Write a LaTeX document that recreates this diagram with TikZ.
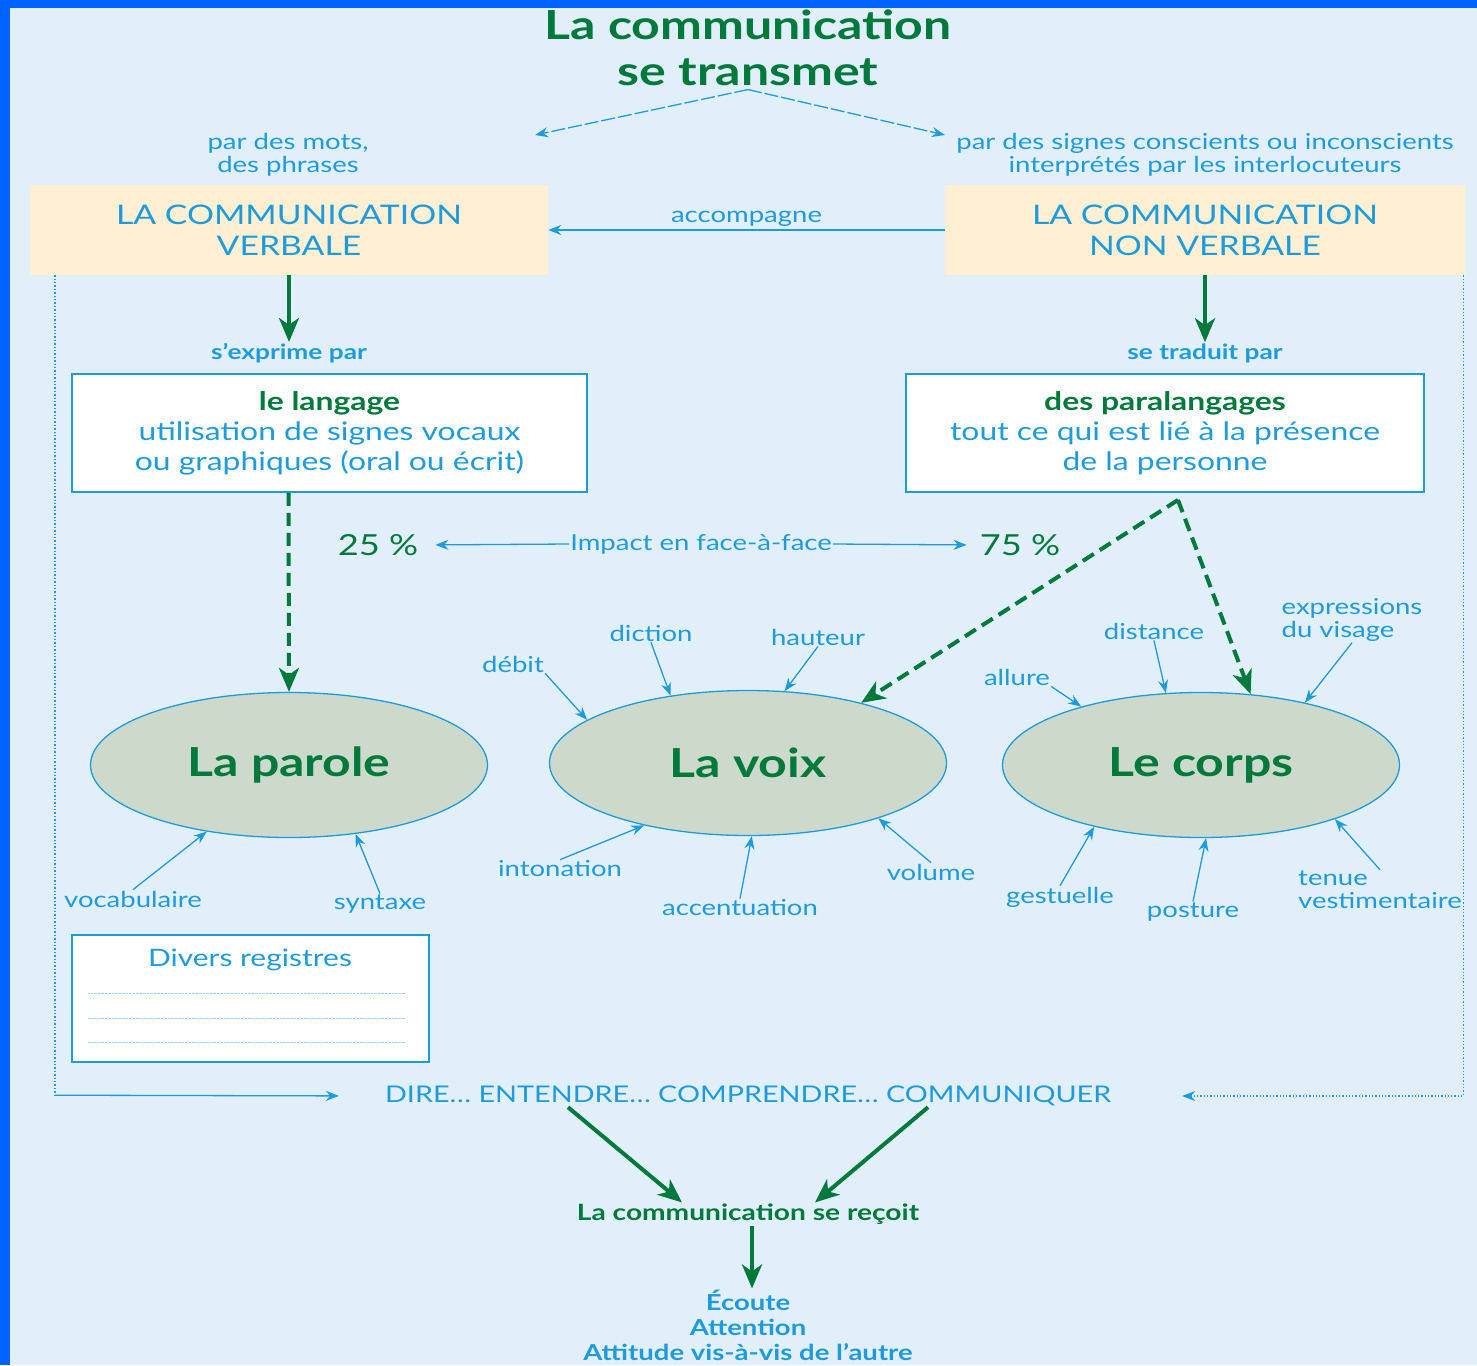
\documentclass[tikz,border=0pt]{standalone}
\usepackage{fontspec}
\setmainfont{Lato}[FakeStretch=1.25]
\usetikzlibrary{arrows.meta,shapes.geometric}
\definecolor{fondbleu}{HTML}{E1EFFB}
\definecolor{bordbleu}{HTML}{0062FF}
\definecolor{cyantexte}{HTML}{1E9BDC}
\definecolor{vertfonce}{HTML}{00793C}
\definecolor{beige}{HTML}{FFF0D3}
\definecolor{sauge}{HTML}{CDDACB}
\begin{document}
\begin{tikzpicture}[x=1pt,y=-1pt,
	fleche/.style={-{Stealth[length=13pt,width=10pt]},cyantexte,line width=1.3pt},
	flecheverte/.style={-{Stealth[length=24pt,width=20pt,inset=7pt]},vertfonce,line width=4pt},
	tiretvert/.style={flecheverte,dash pattern=on 13pt off 7pt},
	pointille/.style={cyantexte,line width=1.4pt,dotted},
	petit/.style={text=cyantexte,font=\fontsize{22}{23}\selectfont,align=center,inner sep=1pt},
	gras/.style={petit,font=\bfseries\fontsize{21}{25}\selectfont},
	pourcent/.style={text=vertfonce,font=\fontsize{29}{32}\selectfont,inner sep=1pt},
	bandeau/.style={fill=beige,minimum height=90pt,text=cyantexte,align=center,font=\fontsize{27}{31}\selectfont},
	cadre/.style={draw=cyantexte,line width=1.5pt,fill=white,minimum height=118pt,text=cyantexte,align=center,font=\fontsize{25.5}{30}\selectfont},
	bulle/.style={ellipse,draw=cyantexte,line width=1.3pt,fill=sauge,minimum width=397pt,minimum height=145pt,inner sep=0pt,text=vertfonce,font=\bfseries\fontsize{40}{44}\selectfont}]
	\useasboundingbox (0,0) rectangle (1477,1365);
	\fill[bordbleu] (0,0) rectangle (1477,1365);
	\fill[fondbleu] (10,8) rectangle (1477,1365);
	\node[text=vertfonce,align=center,font=\bfseries\fontsize{40}{46}\selectfont] (titre) at (748,48) {La communication\\se transmet};
	\coordinate (gauche) at (535,135);
	\coordinate (droite) at (945,135);
	\draw[fleche,dash pattern=on 14pt off 3pt] (titre.south) -- (gauche);
	\draw[fleche,dash pattern=on 14pt off 3pt] (titre.south) -- (droite);
	\node[petit] (mots) at (288,155) {par des mots,\\des phrases};
	\node[petit] (signes) at (1205,155) {par des signes conscients ou inconscients\\interprétés par les interlocuteurs};
	\node[bandeau,minimum width=518pt] (verbale) at (289,230) {LA COMMUNICATION\\VERBALE};
	\node[bandeau,minimum width=520pt] (nonverbale) at (1205,230) {LA COMMUNICATION\\NON VERBALE};
	\draw[fleche] (nonverbale.west) -- node[petit,above=2pt] {accompagne} (verbale.east);
	\node[gras] (exprime) at (289,353) {s’exprime par};
	\node[gras] (traduit) at (1205,353) {se traduit par};
	\draw[flecheverte] (verbale.south) -- (exprime.north);
	\draw[flecheverte] (nonverbale.south) -- (traduit.north);
	\node[cadre,minimum width=515pt] (langage) at (329.5,433) {\textcolor{vertfonce}{\bfseries le langage}\\utilisation de signes vocaux\\ou graphiques (oral ou écrit)};
	\node[cadre,minimum width=518pt] (paralangages) at (1165,433) {\textcolor{vertfonce}{\bfseries des paralangages}\\tout ce qui est lié à la présence\\de la personne};
	\node[pourcent] (vingtcinq) at (378,545) {25 \%};
	\node[pourcent] (soixantequinze) at (1020,545) {75 \%};
	\node[petit] (impact) at (701,544) {Impact en face-à-face};
	\draw[fleche,shorten >=16pt] (impact.west) -- (vingtcinq.east);
	\draw[fleche,shorten >=12pt] (impact.east) -- (soixantequinze.west);
	\node[bulle] (parole) at (289,765) {La parole};
	\node[bulle] (voix) at (748,763) {La voix};
	\node[bulle] (corps) at (1201,765) {Le corps};
	\draw[tiretvert] ([xshift=-41pt]langage.south) -- (parole.north);
	\coordinate (fourche) at (1178,500);
	\draw[tiretvert] (fourche) -- (voix.28);
	\draw[tiretvert] (fourche) -- (corps.55);
	\node[petit] (vocabulaire) at (133,899) {vocabulaire};
	\node[petit] (syntaxe) at (380,904) {syntaxe};
	\draw[fleche] (vocabulaire.north) -- (parole.219);
	\draw[fleche] (syntaxe.north) -- (parole.314);
	\node[petit] (debit) at (513,664) {débit};
	\node[petit] (diction) at (651,633) {diction};
	\node[petit] (hauteur) at (818,637) {hauteur};
	\node[petit] (intonation) at (560,869) {intonation};
	\node[petit] (accentuation) at (740,908) {accentuation};
	\node[petit] (volume) at (931,872) {volume};
	\draw[fleche] (debit.south east) -- (voix.165);
	\draw[fleche] (diction.south) -- (voix.139);
	\draw[fleche] (hauteur.south) -- (voix.63);
	\draw[fleche] (intonation.north) -- (voix.211);
	\draw[fleche] (accentuation.north) -- (voix.273);
	\draw[fleche] (volume.north) -- (voix.337);
	\node[petit] (allure) at (1017,677) {allure};
	\node[petit] (distance) at (1154,631) {distance};
	\node[petit,align=left] (visage) at (1352,620) {expressions\\du visage};
	\node[petit] (gestuelle) at (1060,897) {gestuelle};
	\node[petit] (posture) at (1193,912) {posture};
	\node[petit,align=left] (tenue) at (1380,890) {tenue\\vestimentaire};
	\draw[fleche] (allure.south east) -- (corps.154);
	\draw[fleche] (distance.south) -- (corps.116);
	\draw[fleche] (visage.south) -- (corps.31);
	\draw[fleche] (gestuelle.north) -- (corps.210);
	\draw[fleche] (posture.north) -- (corps.274);
	\draw[fleche] (tenue.north) -- (corps.338);
	\node[cadre,minimum width=357pt,minimum height=127pt] (registres) at (250.5,998.5) {};
	\node[petit,font=\fontsize{24}{28}\selectfont] (divers) at (250,960) {Divers registres};
	\foreach \y in {993,1018,1042}
		\draw[cyantexte!45,densely dotted] (88,\y) -- (405,\y);
	\node[petit,font=\fontsize{23}{26}\selectfont] (dire) at (748,1096) {DIRE… ENTENDRE… COMPRENDRE… COMMUNIQUER};
	\draw[pointille] ([xshift=25pt]verbale.south west) -- ++(0,820) coordinate (coinbas);
	\draw[fleche,shorten >=45pt] (coinbas) -- (dire.west);
	\draw[pointille,fleche,dotted,shorten >=70pt] ([xshift=-2pt]nonverbale.south east) |- (dire.east);
	\node[gras,text=vertfonce,font=\bfseries\fontsize{22.5}{25}\selectfont] (recoit) at (748,1214) {La communication se reçoit};
	\node[gras,font=\bfseries\fontsize{22}{25}\selectfont] (ecoute) at (748,1325) {Écoute\\Attention\\Attitude vis-à-vis de l’autre};
	\draw[flecheverte] ([xshift=-180pt]dire.south) -- ([xshift=-66pt]recoit.north);
	\draw[flecheverte] ([xshift=180pt]dire.south) -- ([xshift=67pt]recoit.north);
	\draw[flecheverte] ([xshift=4pt]recoit.south) -- ([xshift=4pt]ecoute.north);
\end{tikzpicture}
\end{document}
